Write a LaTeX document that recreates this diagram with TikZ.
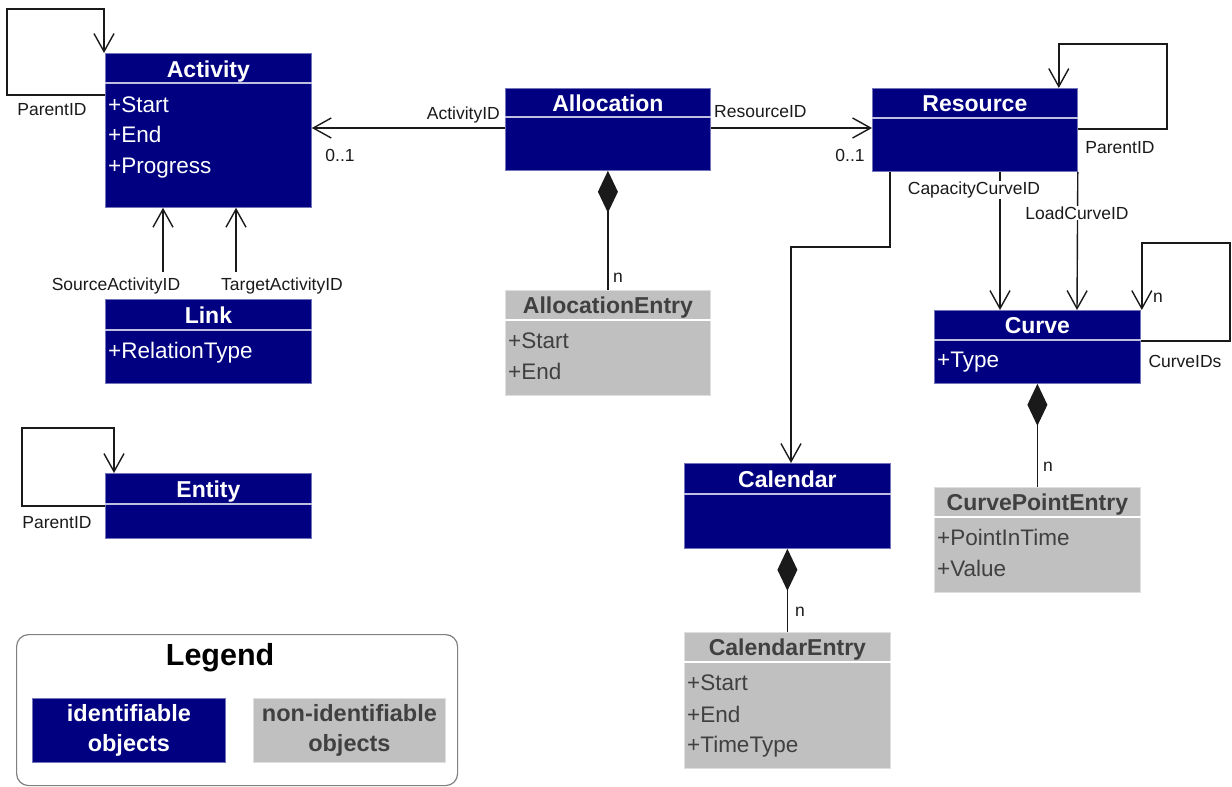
\documentclass[tikz,border=0pt]{standalone}
\usepackage{fontspec}
\setmainfont{Liberation Sans}
\usetikzlibrary{arrows.meta}
\definecolor{navy}{HTML}{000080}
\definecolor{lgray}{HTML}{C0C0C0}
\definecolor{dgray}{HTML}{404040}
\definecolor{ink}{HTML}{1A1A1A}
\tikzset{
  idbox/.style={draw=navy!55!white, line width=0.8pt, fill=navy, anchor=north west, inner sep=0pt},
  nidbox/.style={draw=lgray!50!white, line width=0.8pt, fill=lgray, anchor=north west, inner sep=0pt},
  idtitle/.style={text=white, font=\fontsize{23}{27}\selectfont\bfseries, inner sep=0pt, anchor=base},
  nidtitle/.style={text=dgray, font=\fontsize{23}{27}\selectfont\bfseries, inner sep=0pt, anchor=base},
  idattr/.style={text=white, font=\fontsize{22.5}{26}\selectfont, anchor=base west, inner sep=0pt},
  nidattr/.style={text=dgray, font=\fontsize{22.5}{26}\selectfont, anchor=base west, inner sep=0pt},
  idsep/.style={draw=white!75!navy, line width=1.2pt},
  nidsep/.style={draw=white, line width=1.2pt},
  lbl/.style={font=\fontsize{17.5}{20}\selectfont, text=ink, inner sep=1pt},
  ref/.style={draw=ink, line width=1.4pt, -{Straight Barb[length=18pt,width=20pt]}},
  comp/.style={draw=ink, line width=1.4pt, {Diamond[length=42pt,width=20pt]}-},
  legendbox/.style={draw=black!50, line width=1.2pt, rounded corners=12pt, anchor=north west, minimum width=441pt, minimum height=151pt, inner sep=0pt},
  legtext/.style={font=\fontsize{23.5}{30}\selectfont\bfseries, align=center, inner sep=0pt},
}
\begin{document}
\begin{tikzpicture}[x=1pt,y=-1pt]
\useasboundingbox (0,0) rectangle (1232,787);

% ---------- Activity
\node[idbox, minimum width=206pt, minimum height=154pt] (act) at (105,53) {};
\node[idtitle] at ([yshift=-24pt]act.north) {Activity};
\draw[idsep] ([yshift=-30pt]act.north west) -- ([yshift=-30pt]act.north east);
\node[idattr] at ([xshift=3pt,yshift=-59pt]act.north west) {+Start};
\node[idattr] at ([xshift=3pt,yshift=-89pt]act.north west) {+End};
\node[idattr] at ([xshift=3pt,yshift=-120pt]act.north west) {+Progress};

% ---------- Allocation
\node[idbox, minimum width=205pt, minimum height=82pt] (alloc) at (505,88) {};
\node[idtitle] at ([yshift=-23pt]alloc.north) {Allocation};
\draw[idsep] ([yshift=-29pt]alloc.north west) -- ([yshift=-29pt]alloc.north east);

% ---------- Resource
\node[idbox, minimum width=205pt, minimum height=83pt] (res) at (872,88) {};
\node[idtitle] at ([yshift=-23pt]res.north) {Resource};
\draw[idsep] ([yshift=-30pt]res.north west) -- ([yshift=-30pt]res.north east);

% ---------- Link
\node[idbox, minimum width=206pt, minimum height=84pt] (link) at (105,299) {};
\node[idtitle] at ([yshift=-24pt]link.north) {Link};
\draw[idsep] ([yshift=-31pt]link.north west) -- ([yshift=-31pt]link.north east);
\node[idattr] at ([xshift=3pt,yshift=-59pt]link.north west) {+RelationType};

% ---------- AllocationEntry
\node[nidbox, minimum width=205pt, minimum height=105pt] (allocE) at (505,290) {};
\node[nidtitle] at ([yshift=-23pt]allocE.north) {AllocationEntry};
\draw[nidsep] ([yshift=-30pt]allocE.north west) -- ([yshift=-30pt]allocE.north east);
\node[nidattr] at ([xshift=3pt,yshift=-58pt]allocE.north west) {+Start};
\node[nidattr] at ([xshift=3pt,yshift=-89pt]allocE.north west) {+End};

% ---------- Curve
\node[idbox, minimum width=206pt, minimum height=73pt] (curve) at (934,310) {};
\node[idtitle] at ([yshift=-23pt]curve.north) {Curve};
\draw[idsep] ([yshift=-30pt]curve.north west) -- ([yshift=-30pt]curve.north east);
\node[idattr] at ([xshift=3pt,yshift=-57pt]curve.north west) {+Type};

% ---------- CurvePointEntry
\node[nidbox, minimum width=206pt, minimum height=105pt] (cpe) at (934,487) {};
\node[nidtitle] at ([yshift=-23pt]cpe.north) {CurvePointEntry};
\draw[nidsep] ([yshift=-30pt]cpe.north west) -- ([yshift=-30pt]cpe.north east);
\node[nidattr] at ([xshift=3pt,yshift=-58pt]cpe.north west) {+PointInTime};
\node[nidattr] at ([xshift=3pt,yshift=-89pt]cpe.north west) {+Value};

% ---------- Calendar
\node[idbox, minimum width=206pt, minimum height=85pt] (cal) at (684,463) {};
\node[idtitle] at ([yshift=-24pt]cal.north) {Calendar};
\draw[idsep] ([yshift=-31pt]cal.north west) -- ([yshift=-31pt]cal.north east);

% ---------- CalendarEntry
\node[nidbox, minimum width=206pt, minimum height=136pt] (calE) at (684,632) {};
\node[nidtitle] at ([yshift=-23pt]calE.north) {CalendarEntry};
\draw[nidsep] ([yshift=-30pt]calE.north west) -- ([yshift=-30pt]calE.north east);
\node[nidattr] at ([xshift=3pt,yshift=-58pt]calE.north west) {+Start};
\node[nidattr] at ([xshift=3pt,yshift=-90pt]calE.north west) {+End};
\node[nidattr] at ([xshift=3pt,yshift=-120pt]calE.north west) {+TimeType};

% ---------- Entity
\node[idbox, minimum width=206pt, minimum height=65pt] (entity) at (105,473) {};
\node[idtitle] at ([yshift=-24pt]entity.north) {Entity};
\draw[idsep] ([yshift=-31pt]entity.north west) -- ([yshift=-31pt]entity.north east);

% ---------- Legend
\node[legendbox] (legend) at (16,634) {};
\node[font=\fontsize{30.5}{34}\selectfont\bfseries, text=black, inner sep=0pt] (legendtitle) at ([xshift=-17pt,yshift=-24pt]legend.north) {Legend};
\node[idbox, minimum width=193pt, minimum height=64pt] (legid) at (32,698) {};
\node[legtext, text=white] at (legid.center) {identifiable\\objects};
\node[nidbox, minimum width=192pt, minimum height=64pt] (legnid) at (253,698) {};
\node[legtext, text=dgray] at (legnid.center) {non-identifiable\\objects};

% ---------- connectors
\draw[ref] ([yshift=-40pt]alloc.north west) -- ([yshift=-75pt]act.north east);
\draw[ref] ([yshift=-40pt]alloc.north east) -- ([yshift=-40pt]res.north west);

\draw[ref] ([yshift=-42pt]act.north west) -| (7,9) -| ([xshift=-1pt]act.north west);
\draw[ref] ([yshift=-41pt]res.north east) -| (1167,44) -| ([xshift=-19pt]res.north east);
\draw[ref] ([yshift=-31pt]curve.north east) -| (1230,243) -| ([xshift=1pt]curve.north east);
\draw[ref] ([yshift=-33pt]entity.north west) -| (22,428) -| ([xshift=9pt]entity.north west);

\draw[ref] ([xshift=58pt,yshift=27pt]link.north west) -- ([xshift=58pt]act.south west);
\draw[ref] ([xshift=131pt,yshift=27pt]link.north west) -- ([xshift=131pt]act.south west);

\draw[ref] ([xshift=18pt]res.south west) |- (791,247) -- ([xshift=107pt]cal.north west);
\draw[ref] ([xshift=128pt]res.south west) -- ([xshift=66pt]curve.north west);
\draw[ref] (res.south east) -- ([xshift=143pt]curve.north west);

\draw[comp] (alloc.south) -- (allocE.north);
\draw[comp] (curve.south) -- (cpe.north);
\draw[comp] (cal.south) -- (calE.north);

% ---------- labels
\node[lbl] at (52,110) {ParentID};
\node[lbl] at (57,523) {ParentID};
\node[lbl] at (1120,148) {ParentID};
\node[lbl] at (1185,361) {CurveIDs};
\node[lbl] at (1158,298) {n};
\node[lbl, anchor=east] at (501,115) {ActivityID};
\node[lbl] at (340,155) {0..1};
\node[lbl, anchor=west] at (713,112) {ResourceID};
\node[lbl] at (850,155) {0..1};
\node[lbl, fill=white] at (974,190) {CapacityCurveID};
\node[lbl, fill=white] at (1077,213) {LoadCurveID};
\node[lbl] at (116,286) {SourceActivityID};
\node[lbl] at (282,286) {TargetActivityID};
\node[lbl] at (618,278) {n};
\node[lbl] at (800,612) {n};
\node[lbl] at (1048,467) {n};
\end{tikzpicture}
\end{document}
